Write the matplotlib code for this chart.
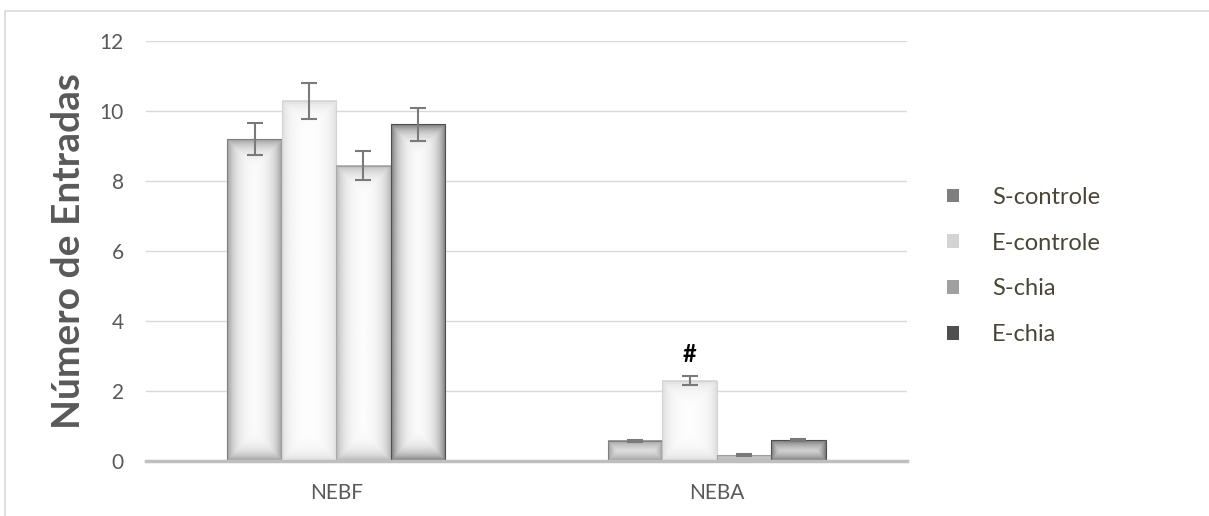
import matplotlib
matplotlib.use("Agg")
import matplotlib.pyplot as plt
import numpy as np
from matplotlib.patches import Rectangle

categories = ["NEBF", "NEBA"]
series = ["S-controle", "E-controle", "S-chia", "E-chia"]
s_controle = [9.2, 0.58]
e_controle = [10.29, 2.29]
s_chia = [8.44, 0.17]
e_chia = [9.62, 0.59]
s_controle_err = [0.46, 0.03]
e_controle_err = [0.52, 0.13]
s_chia_err = [0.42, 0.03]
e_chia_err = [0.48, 0.03]
marks = ["", "#", "", ""]  # significance mark per series, NEBA group only

values = [s_controle, e_controle, s_chia, e_chia]
errors = [s_controle_err, e_controle_err, s_chia_err, e_chia_err]
colors = ["#7f7f7f", "#d4d4d4", "#a0a0a0", "#4f4f4f"]

plt.rcParams['font.family'] = ['Lato', 'DejaVu Sans']
fig = plt.figure(figsize=(12.09, 5.16), dpi=100)
W, H = 1209, 516
ax = fig.add_axes([146 / W, 1 - 461 / H, (907 - 146) / W, 420 / H])

x = np.arange(len(categories))
width = 0.143
ax.set_xlim(-0.5, 1.5)
ax.set_ylim(0, 12)

def shade_bar(ax, patch, color):
    # soft inner shadow along the bar edges
    x0, y0 = patch.get_x(), patch.get_y()
    w, h = patch.get_width(), patch.get_height()
    p0 = ax.transData.transform((x0, y0))
    p1 = ax.transData.transform((x0 + w, y0 + h))
    wpx = max(int(abs(p1[0] - p0[0])), 2)
    hpx = max(int(abs(p1[1] - p0[1])), 2)
    xx = np.arange(wpx) + 0.5
    yy = np.arange(hpx) + 0.5
    dx = np.minimum(xx, wpx - xx)
    dy = np.minimum(yy, hpx - yy)
    ax_ = np.exp(-dx / 8.0)
    ay = np.exp(-dy / 9.0)
    alpha = np.maximum(ax_[None, :], ay[:, None]) * 0.8
    rgb = matplotlib.colors.to_rgb(color)
    img = np.zeros((hpx, wpx, 4))
    img[..., :3] = rgb
    img[..., 3] = alpha
    ax.imshow(img, extent=(x0, x0 + w, y0, y0 + h), aspect='auto',
              interpolation='bilinear', zorder=2.5)

for i, (name, vals, errs, c) in enumerate(zip(series, values, errors, colors)):
    pos = x + (i - 1.5) * width
    bars = ax.bar(pos, vals, width, color='white', edgecolor=c, linewidth=0.8,
                  zorder=2, label=name)
    for b in bars:
        shade_bar(ax, b, c)
    ax.errorbar(pos, vals, yerr=errs, fmt='none', ecolor='#7a7a7a',
                elinewidth=1.5, capsize=6, capthick=1.5, zorder=4)
    if marks[i]:
        ax.text(pos[1], vals[1] + errs[1] + 0.3, marks[i], ha='center',
                va='bottom', fontsize=17, fontweight='bold', color='black')

ax.set_aspect('auto')
ax.set_xlim(-0.5, 1.5)
ax.set_ylim(0, 12)
ax.set_yticks(np.arange(0, 13, 2))
ax.set_xticks(x)
ax.set_xticklabels(categories)
ax.tick_params(length=0, colors='#595959', labelsize=15)
ax.tick_params(axis='y', pad=16)
ax.tick_params(axis='x', pad=16)
ax.grid(axis='y', color='#d9d9d9', linewidth=1, zorder=0)
ax.set_axisbelow(True)
for s in ['top', 'right', 'left']:
    ax.spines[s].set_visible(False)
ax.spines['bottom'].set_color('#bfbfbf')
ax.spines['bottom'].set_linewidth(2.5)
ax.spines['bottom'].set_zorder(3)

ax.set_ylabel("Número de Entradas", fontsize=28, fontweight='bold',
              color='#595959', labelpad=10)

handles = [Rectangle((0, 0), 1, 1, facecolor=c, edgecolor='none') for c in colors]
leg = fig.legend(handles, series, loc='center left', bbox_to_anchor=(926 / W, 1 - 266 / H),
                 frameon=False, fontsize=17, handlelength=0.5, handleheight=0.5,
                 handletextpad=1.4, labelspacing=1.05)
for t in leg.get_texts():
    t.set_color('#4a4536')

# chart area border
fig.add_artist(Rectangle((5 / W, -0.1), 1.1, 1 - 11 / H + 0.1, transform=fig.transFigure,
                         fill=False, edgecolor='#d9d9d9', linewidth=1.2))

fig.savefig("out.png", dpi=100)
